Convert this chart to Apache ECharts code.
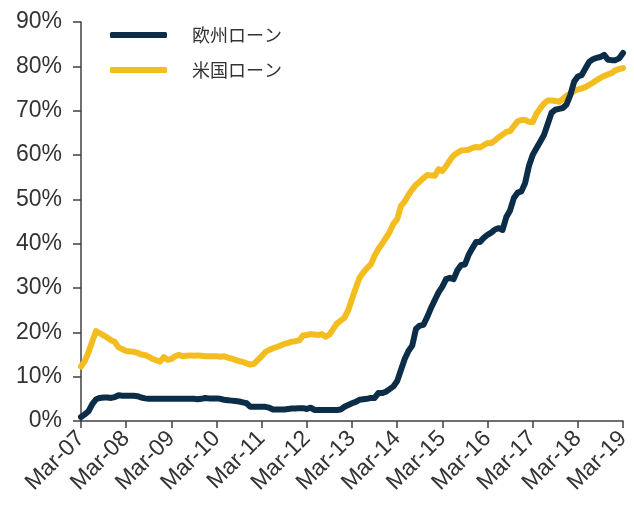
<!DOCTYPE html>
<html lang="ja">
<head>
<meta charset="UTF-8">
<title>欧州ローン / 米国ローン</title>
<script src="https://cdn.jsdelivr.net/npm/echarts@6/dist/echarts.min.js"></script>
<style>
    html, body { margin: 0; padding: 0; background: #fff; }
    #main { width: 634px; height: 506px; }
</style>
</head>
<body>
<div id="main"></div>
<script type="text/javascript">
    // 月次データ Mar-07 〜 Mar-19
    var startYear = 2007;
    var monthNames = ['Jan','Feb','Mar','Apr','May','Jun','Jul','Aug','Sep','Oct','Nov','Dec'];

    var euLoans = [
        0.9, 1.5, 2.2, 3.8, 4.9, 5.2, 5.3, 5.3, 5.2, 5.4, 5.8, 5.7,
        5.7, 5.7, 5.7, 5.6, 5.3, 5.1, 5.0, 5.0, 5.0, 5.0, 5.0, 5.0,
        5.0, 5.0, 5.0, 5.0, 5.0, 5.0, 5.0, 4.9, 5.0, 5.2, 5.1, 5.1,
        5.1, 5.0, 4.8, 4.7, 4.6, 4.5, 4.4, 4.2, 4.0, 3.2, 3.2, 3.2,
        3.2, 3.2, 3.0, 2.6, 2.6, 2.6, 2.6, 2.7, 2.8, 2.8, 2.9, 2.9,
        2.7, 3.0, 2.5, 2.5, 2.5, 2.5, 2.5, 2.5, 2.5, 2.6, 3.2, 3.6,
        4.0, 4.3, 4.8, 4.9, 5.0, 5.2, 5.2, 6.3, 6.3, 6.6, 7.2, 7.8,
        9.0, 11.5, 14.0, 15.8, 17.0, 20.8, 21.5, 21.7, 23.5, 25.5, 27.3, 29.0,
        30.3, 32.0, 32.3, 32.0, 34.0, 35.2, 35.3, 37.5, 39.0, 40.4, 40.4, 41.3,
        42.0, 42.5, 43.2, 43.5, 43.1, 46.0, 47.5, 50.3, 51.5, 51.8, 53.7, 57.5,
        60.0, 61.5, 63.0, 64.5, 67.0, 69.5, 70.2, 70.4, 70.6, 71.4, 73.5, 76.5,
        77.7, 78.0, 79.5, 81.0, 81.6, 81.9, 82.1, 82.6, 81.5, 81.4, 81.4, 81.8,
        83.0
    ];

    var usLoans = [
        12.3, 13.5, 15.5, 18.0, 20.3, 19.8, 19.3, 18.8, 18.2, 17.8, 16.6, 16.2,
        15.8, 15.7, 15.6, 15.4, 15.0, 14.9, 14.5, 14.0, 13.7, 13.4, 14.4, 13.8,
        14.0, 14.6, 14.9, 14.6, 14.7, 14.8, 14.7, 14.8, 14.7, 14.6, 14.6, 14.6,
        14.6, 14.5, 14.6, 14.3, 14.1, 13.8, 13.5, 13.3, 13.0, 12.7, 12.9, 13.8,
        14.6, 15.6, 16.0, 16.4, 16.7, 17.0, 17.4, 17.6, 17.9, 18.0, 18.2, 19.3,
        19.4, 19.6, 19.5, 19.4, 19.6, 19.0, 19.5, 20.7, 22.0, 22.6, 23.3, 25.0,
        27.5, 30.0, 32.3, 33.5, 34.5, 35.3, 37.3, 38.8, 40.0, 41.3, 42.6, 44.5,
        45.5, 48.5, 49.5, 51.0, 52.2, 53.3, 54.0, 54.8, 55.5, 55.4, 55.3, 56.8,
        56.4, 57.5, 58.8, 59.9, 60.5, 61.0, 61.1, 61.2, 61.6, 61.8, 61.7, 62.2,
        62.7, 62.7, 63.3, 64.0, 64.6, 65.2, 65.4, 66.5, 67.6, 67.9, 67.9, 67.5,
        67.4, 69.3, 70.5, 71.6, 72.3, 72.3, 72.2, 72.0, 72.6, 73.4, 73.8, 74.4,
        74.8, 75.0, 75.3, 75.8, 76.3, 76.9, 77.4, 77.8, 78.2, 78.5, 79.1, 79.4,
        79.6
    ];

    var yTicks = [0, 10, 20, 30, 40, 50, 60, 70, 80, 90];

    // カテゴリ (Mar-07 ... Mar-19)
    var months = [];
    for (var i = 0; i < euLoans.length; i++) {
        var m = (2 + i) % 12;
        var y = startYear + Math.floor((2 + i) / 12);
        months.push(monthNames[m] + '-' + String(y).slice(2));
    }

    var chart = echarts.init(document.getElementById('main'));

    var labelFont = 'Liberation Sans, Arial, sans-serif';
    var axisColor = '#404040';

    chart.setOption({
        animation: false,
        grid: { left: 81, right: 11, top: 22, bottom: 85 },
        legend: {
            orient: 'vertical',
            left: 110,
            top: 26,
            padding: 0,
            itemWidth: 57,
            itemHeight: 6,
            itemGap: 17,
            icon: 'roundRect',
            textStyle: {
                fontFamily: 'Noto Sans CJK JP',
                fontSize: 18,
                color: '#333',
                padding: [0, 0, 0, 20]
            },
            data: ['欧州ローン', '米国ローン']
        },
        xAxis: {
            type: 'category',
            data: months,
            boundaryGap: false,
            axisLine: { lineStyle: { color: axisColor, width: 1.5 } },
            axisTick: {
                length: 7,
                interval: function (idx) { return idx % 12 === 0; },
                lineStyle: { color: axisColor, width: 1.5 }
            },
            axisLabel: {
                interval: function (idx) { return idx % 12 === 0; },
                rotate: 45,
                margin: 14,
                fontFamily: labelFont,
                fontSize: 23,
                color: '#333'
            },
            splitLine: { show: false }
        },
        yAxis: {
            type: 'value',
            min: yTicks[0],
            max: yTicks[yTicks.length - 1],
            interval: 10,
            axisLine: { show: true, lineStyle: { color: axisColor, width: 1.5 } },
            axisTick: { show: true, length: 8, lineStyle: { color: axisColor, width: 1.5 } },
            axisLabel: {
                formatter: '{value}%',
                margin: 19,
                fontFamily: labelFont,
                fontSize: 23,
                color: '#333'
            },
            splitLine: { show: false }
        },
        series: [
            {
                name: '欧州ローン',
                type: 'line',
                data: euLoans,
                showSymbol: false,
                itemStyle: { color: '#0c2d48' },
                lineStyle: { color: '#0c2d48', width: 6, cap: 'round', join: 'round' },
                z: 3
            },
            {
                name: '米国ローン',
                type: 'line',
                data: usLoans,
                showSymbol: false,
                itemStyle: { color: '#f4bd1f' },
                lineStyle: { color: '#f4bd1f', width: 6, cap: 'round', join: 'round' },
                z: 2
            }
        ]
    });
</script>
</body>
</html>
